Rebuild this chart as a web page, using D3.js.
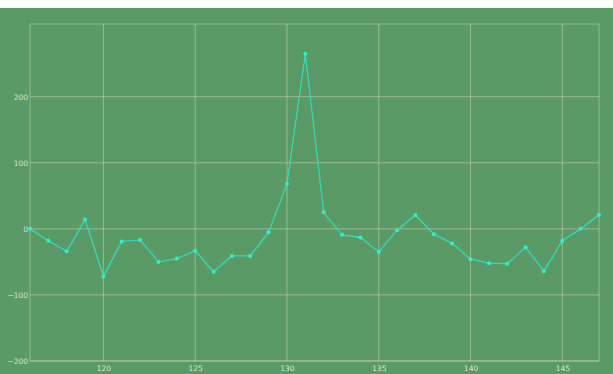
<!DOCTYPE html>
<html><head><meta charset="utf-8">
<script src="https://cdn.jsdelivr.net/npm/d3@7"></script>
<style>
html,body{margin:0;padding:0;background:#fff;}
svg{display:block;}
</style></head>
<body>
<svg id="chart" width="613" height="374"></svg>
<script>
// Series: x position and measured value
const xs = [116,117,118,119,120,121,122,123,124,125,126,127,128,129,130,131,132,133,134,135,136,137,138,139,140,141,142,143,144,145,146,147];
const ys = [0,-18,-34,14,-72,-19,-17,-50,-45,-33,-65,-41,-41,-5,68,265,25,-9,-13,-35,-2,21,-8,-22,-46,-52,-53,-28,-64,-18,0,21];
const xTicks = [120,125,130,135,140,145];
const yTicks = [-200,-100,0,100,200];

const W = 613, H = 374;
const m = {left:30, right:14, top:24, bottom:13};
const svg = d3.select("#chart");

svg.append("rect").attr("x",0).attr("y",8).attr("width",W).attr("height",H-8).attr("fill","#5a9a66");

const x = d3.scaleLinear().domain([116,147]).range([m.left, W-m.right]);
const y = d3.scaleLinear().domain([-200,310]).range([H-m.bottom, m.top]);

const gridCol = "rgba(222,222,190,0.48)";
const g = svg.append("g");

// grid lines
g.selectAll(".gx").data(xTicks).join("line")
  .attr("x1",d=>x(d)).attr("x2",d=>x(d)).attr("y1",m.top).attr("y2",H-m.bottom)
  .attr("stroke",gridCol).attr("stroke-width",1);
g.selectAll(".gy").data(yTicks).join("line")
  .attr("x1",m.left).attr("x2",W-m.right).attr("y1",d=>y(d)).attr("y2",d=>y(d))
  .attr("stroke",gridCol).attr("stroke-width",1);
// frame
g.append("rect").attr("x",m.left).attr("y",m.top).attr("width",W-m.right-m.left).attr("height",H-m.bottom-m.top)
  .attr("fill","none").attr("stroke",gridCol).attr("stroke-width",1);

// tick labels
const labelCol = "#d8e6d4";
const xAxis = d3.axisBottom(x).tickValues(xTicks).tickSize(0).tickPadding(5);
svg.append("g").attr("transform",`translate(0,${H-m.bottom})`).call(xAxis)
  .call(a=>a.select(".domain").remove())
  .selectAll("text").attr("fill",labelCol).style("font-family","DejaVu Sans").style("font-size","7.5px");
const yAxis = d3.axisLeft(y).tickValues(yTicks).tickSize(0).tickPadding(2).tickFormat(d3.format("d"));
svg.append("g").attr("transform",`translate(${m.left},0)`).call(yAxis)
  .call(a=>a.select(".domain").remove())
  .selectAll("text").attr("fill",labelCol).style("font-family","DejaVu Sans").style("font-size","7.5px");

// line and markers
const data = xs.map((v,i)=>({x:v,y:ys[i]}));
const line = d3.line().x(d=>x(d.x)).y(d=>y(d.y));
svg.append("path").datum(data).attr("d",line).attr("fill","none")
  .attr("stroke","#2fdcbc").attr("stroke-width",1.3);
svg.selectAll(".pt").data(data).join("circle")
  .attr("cx",d=>x(d.x)).attr("cy",d=>y(d.y)).attr("r",2).attr("fill","#2ff0cc");
</script>
</body></html>
